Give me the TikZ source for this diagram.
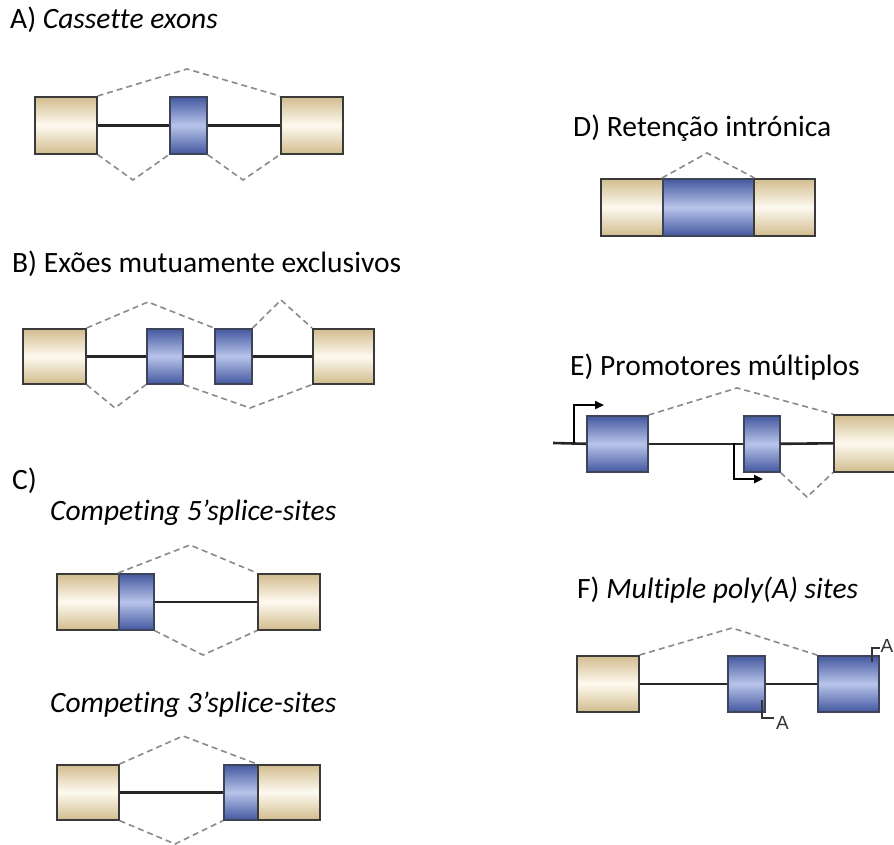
\documentclass[tikz,border=0pt]{standalone}
\usepackage{fontspec}
\setmainfont[Ligatures=CommonOff]{Carlito}
\newfontfamily\afont{Liberation Sans}
\usetikzlibrary{arrows.meta}
\definecolor{tanc}{HTML}{D2BC8E}
\definecolor{tanl}{HTML}{FDFAF0}
\definecolor{blued}{HTML}{4458A0}
\definecolor{bluel}{HTML}{B8C4EA}
\definecolor{edgec}{HTML}{3A3A3A}
\definecolor{dashc}{HTML}{8A8A8A}
\tikzset{
  exon/.style={draw=edgec, line width=1.6pt, inner sep=0pt, anchor=north west,
    top color=tanc, bottom color=tanc, middle color=tanl},
  bexon/.style={draw=edgec!70!blued, line width=1.6pt, inner sep=0pt, anchor=north west,
    top color=blued, bottom color=blued, middle color=bluel},
  intron/.style={draw=black!85, line width=2.6pt},
  splice/.style={draw=dashc, line width=1.6pt, dash pattern=on 6pt off 4pt},
  lbl/.style={anchor=west, inner sep=0pt, font=\fontsize{29.5}{34}\selectfont},
  prom/.style={draw=black, line width=2.4pt, -{Triangle[length=9pt,width=8pt]}},
  polya/.style={draw=black!80, line width=1.4pt},
  atext/.style={inner sep=0pt, font=\afont\fontsize{19}{22}\selectfont, text=black!80}
}
\begin{document}
\begin{tikzpicture}[x=1pt,y=-1pt]
\useasboundingbox (0,0) rectangle (894,845);
% ---------- A
\node[lbl] (tA) at (10,20) {A) \textit{Cassette exons}};
\node[exon, minimum width=62pt, minimum height=57pt] (a1) at (34,96) {};
\node[bexon, minimum width=37pt, minimum height=57pt] (a2) at (169,96) {};
\node[exon, minimum width=62pt, minimum height=57pt] (a3) at (280,96) {};
\draw[intron] (a1.east) -- (a2.west);
\draw[intron] (a2.east) -- (a3.west);
\coordinate (pA) at (187,69);
\coordinate (qA1) at (133,180);
\coordinate (qA2) at (243,180);
\draw[splice] (a1.north east) -- (pA) -- (a3.north west);
\draw[splice] (a1.south east) -- (qA1) -- (a2.south west);
\draw[splice] (a2.south east) -- (qA2) -- (a3.south west);
% ---------- B
\node[lbl] (tB) at (12,264) {B) Exões mutuamente exclusivos};
\node[exon, minimum width=63pt, minimum height=55pt] (b1) at (22,328) {};
\node[bexon, minimum width=36pt, minimum height=55pt] (b2) at (146,328) {};
\node[bexon, minimum width=37pt, minimum height=55pt] (b3) at (214,328) {};
\node[exon, minimum width=61pt, minimum height=55pt] (b4) at (312,328) {};
\draw[intron] (b1.east) -- (b2.west);
\draw[intron] (b2.east) -- (b3.west);
\draw[intron] (b3.east) -- (b4.west);
\coordinate (pB1) at (148,302);
\coordinate (pB2) at (281,300);
\coordinate (qB1) at (115,408);
\coordinate (qB2) at (250,408);
\draw[splice] (b1.north east) -- (pB1) -- (b3.north west);
\draw[splice] (b3.north east) -- (pB2) -- (b4.north west);
\draw[splice] (b1.south east) -- (qB1) -- (b2.south west);
\draw[splice] (b2.south east) -- (qB2) -- (b4.south west);
% ---------- C
\node[lbl] (tC) at (12,481) {C)};
\node[lbl] (tC1) at (50,513) {\textit{Competing 5’splice-sites}};
\node[exon, minimum width=62pt, minimum height=56pt] (c1) at (56,573) {};
\node[bexon, minimum width=35pt, minimum height=56pt] (c2) at (118,573) {};
\node[exon, minimum width=62pt, minimum height=56pt] (c3) at (257,573) {};
\draw[intron] (c2.east) -- (c3.west);
\coordinate (pC1) at (190,545);
\coordinate (qC1) at (203,655);
\draw[splice] (c2.north west) -- (pC1) -- (c3.north west);
\draw[splice] (c2.south east) -- (qC1) -- (c3.south west);
\node[lbl] (tC2) at (50,705) {\textit{Competing 3’splice-sites}};
\node[exon, minimum width=62pt, minimum height=55pt] (d1) at (56,764) {};
\node[bexon, minimum width=34pt, minimum height=55pt] (d2) at (223,764) {};
\node[exon, minimum width=62pt, minimum height=55pt] (d3) at (257,764) {};
\draw[intron] (d1.east) -- (d2.west);
\coordinate (pC2) at (183,736);
\coordinate (qC2) at (175,844);
\draw[splice] (d1.north east) -- (pC2) -- (d3.north west);
\draw[splice] (d1.south east) -- (qC2) -- (d2.south west);
% ---------- D
\node[lbl] (tD) at (573,128) {D) Retenção intrónica};
\node[exon, minimum width=62pt, minimum height=57pt] (e1) at (600,178) {};
\node[bexon, minimum width=91pt, minimum height=57pt] (e2) at (662,178) {};
\node[exon, minimum width=61pt, minimum height=57pt] (e3) at (753,178) {};
\coordinate (pD) at (707,153);
\draw[splice] (e2.north west) -- (pD) -- (e2.north east);
% ---------- E
\node[lbl] (tE) at (570,367) {E) Promotores múltiplos};
\coordinate (sE) at (553,443);
\node[bexon, minimum width=61pt, minimum height=56pt] (f1) at (586,415) {};
\node[bexon, minimum width=36pt, minimum height=56pt] (f2) at (743,415) {};
\node[exon, minimum width=62pt, minimum height=57pt] (f3) at (833,414) {};
\draw[intron] (sE) -- (f1.west);
\draw[intron] (f1.east) -- (f2.west);
\draw[intron] (f2.east) -- (f3.west);
\coordinate (r1a) at (574,443);
\coordinate (r1b) at (604,405);
\coordinate (r2a) at (734,443);
\coordinate (r2b) at (763,479);
\draw[prom] (r1a) |- (r1b);
\draw[prom] (r2a) |- (r2b);
\coordinate (pE) at (737,388);
\coordinate (qE) at (807,497);
\draw[splice] (f1.north east) -- (pE) -- (f3.north west);
\draw[splice] (f2.south east) -- (qE) -- (f3.south west);
% ---------- F
\node[lbl] (tF) at (577,590) {F) \textit{Multiple poly(A) sites}};
\node[exon, minimum width=62pt, minimum height=56pt] (g1) at (576,655) {};
\node[bexon, minimum width=37pt, minimum height=56pt] (g2) at (727,655) {};
\node[bexon, minimum width=61pt, minimum height=56pt] (g3) at (817,655) {};
\draw[intron] (g1.east) -- (g2.west);
\draw[intron] (g2.east) -- (g3.west);
\coordinate (pF) at (732,628);
\draw[splice] (g1.north east) -- (pF) -- (g3.north west);
\coordinate (aF1) at (762,700);
\coordinate (aF1b) at (774,718);
\node[atext, anchor=west] (A1) at (776,723) {A};
\draw[polya] (aF1) |- (aF1b);
\coordinate (aF2) at (872,662);
\coordinate (aF2b) at (880,648);
\node[atext, anchor=west] (A2) at (880.5,646) {A};
\draw[polya] (aF2) |- (aF2b);
\end{tikzpicture}
\end{document}
